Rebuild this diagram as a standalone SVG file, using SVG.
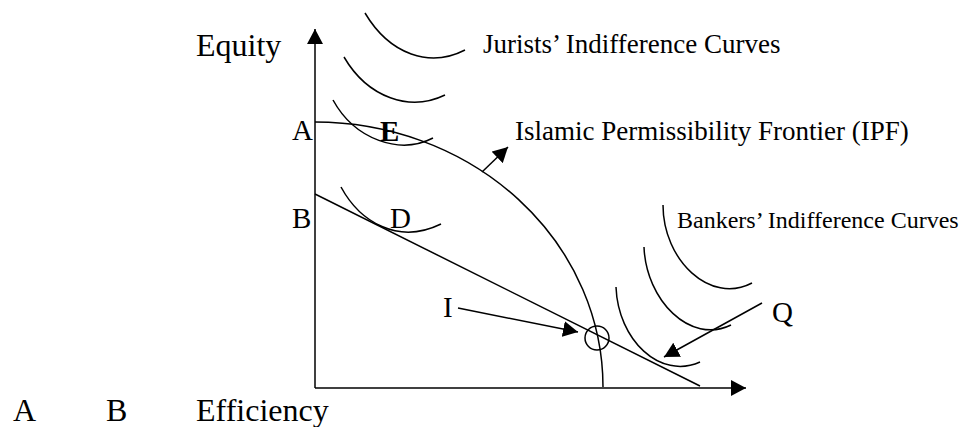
<svg xmlns="http://www.w3.org/2000/svg" width="961" height="427" viewBox="0 0 961 427">
<style>
text{font-family:"Liberation Serif","Times New Roman",serif;fill:#000}
.big{font-size:32px}
.lbl{font-size:29px}
.mid{font-size:27px}
.sm{font-size:24px}
.ln{fill:none;stroke:#000;stroke-width:1.5}
</style>
<defs>
<marker id="ah" markerWidth="16" markerHeight="16" refX="15" refY="8" orient="auto" markerUnits="userSpaceOnUse">
<path d="M0,0 L15,8 L0,16 z" fill="#000"/>
</marker>
</defs>
<rect width="961" height="427" fill="#fff"/>
<g id="axes">
<line class="ln" x1="315" y1="388" x2="315" y2="29" marker-end="url(#ah)"/>
<line class="ln" x1="315" y1="388" x2="746" y2="388" marker-end="url(#ah)"/>
<text class="big" x="196" y="56">Equity</text>
<text class="big" x="13" y="421">A</text>
<text class="big" x="106" y="421">B</text>
<text class="big" x="196" y="421">Efficiency</text>
</g>
<g id="jurists">
<path class="ln" d="M365,13 C390,55 430,68 465,50"/>
<path class="ln" d="M344,57 C368,98 410,112 445,95"/>
<path class="ln" d="M333,100 C355,140 400,155 433,138"/>
<text class="mid" x="483" y="53">Jurists’ Indifference Curves</text>
</g>
<g id="ipf">
<path class="ln" d="M315,122 A288,265 0 0 1 603,387"/>
<text class="mid" x="515" y="140">Islamic Permissibility Frontier (IPF)</text>
</g>
<g id="bankers">
<path class="ln" d="M663,205 C663,260 710,305 752,283"/>
<path class="ln" d="M644,247 C646,300 690,345 731,325"/>
<path class="ln" d="M616,287 C618,340 660,380 700,362"/>
<text class="sm" x="677" y="228">Bankers’ Indifference Curves</text>
</g>
<g id="budget">
<line class="ln" x1="315" y1="194" x2="700" y2="386"/>
<path class="ln" d="M341,187 C360,222 398,245 441,224"/>
</g>
<g id="labels">
<text class="lbl" x="292" y="140">A</text>
<text class="lbl" x="380" y="141" font-weight="bold">E</text>
<text class="lbl" x="292" y="228">B</text>
<text class="lbl" x="390" y="228">D</text>
<text class="lbl" x="443" y="317">I</text>
<text class="lbl" x="772" y="322">Q</text>
<circle class="ln" cx="597" cy="338" r="12"/>
</g>
<g id="connectors">
<line class="ln" x1="482" y1="172" x2="508" y2="147" marker-end="url(#ah)"/>
<line class="ln" x1="458" y1="308" x2="578" y2="332" marker-end="url(#ah)"/>
<line class="ln" x1="762" y1="303" x2="664" y2="357" marker-end="url(#ah)"/>
</g>
</svg>
